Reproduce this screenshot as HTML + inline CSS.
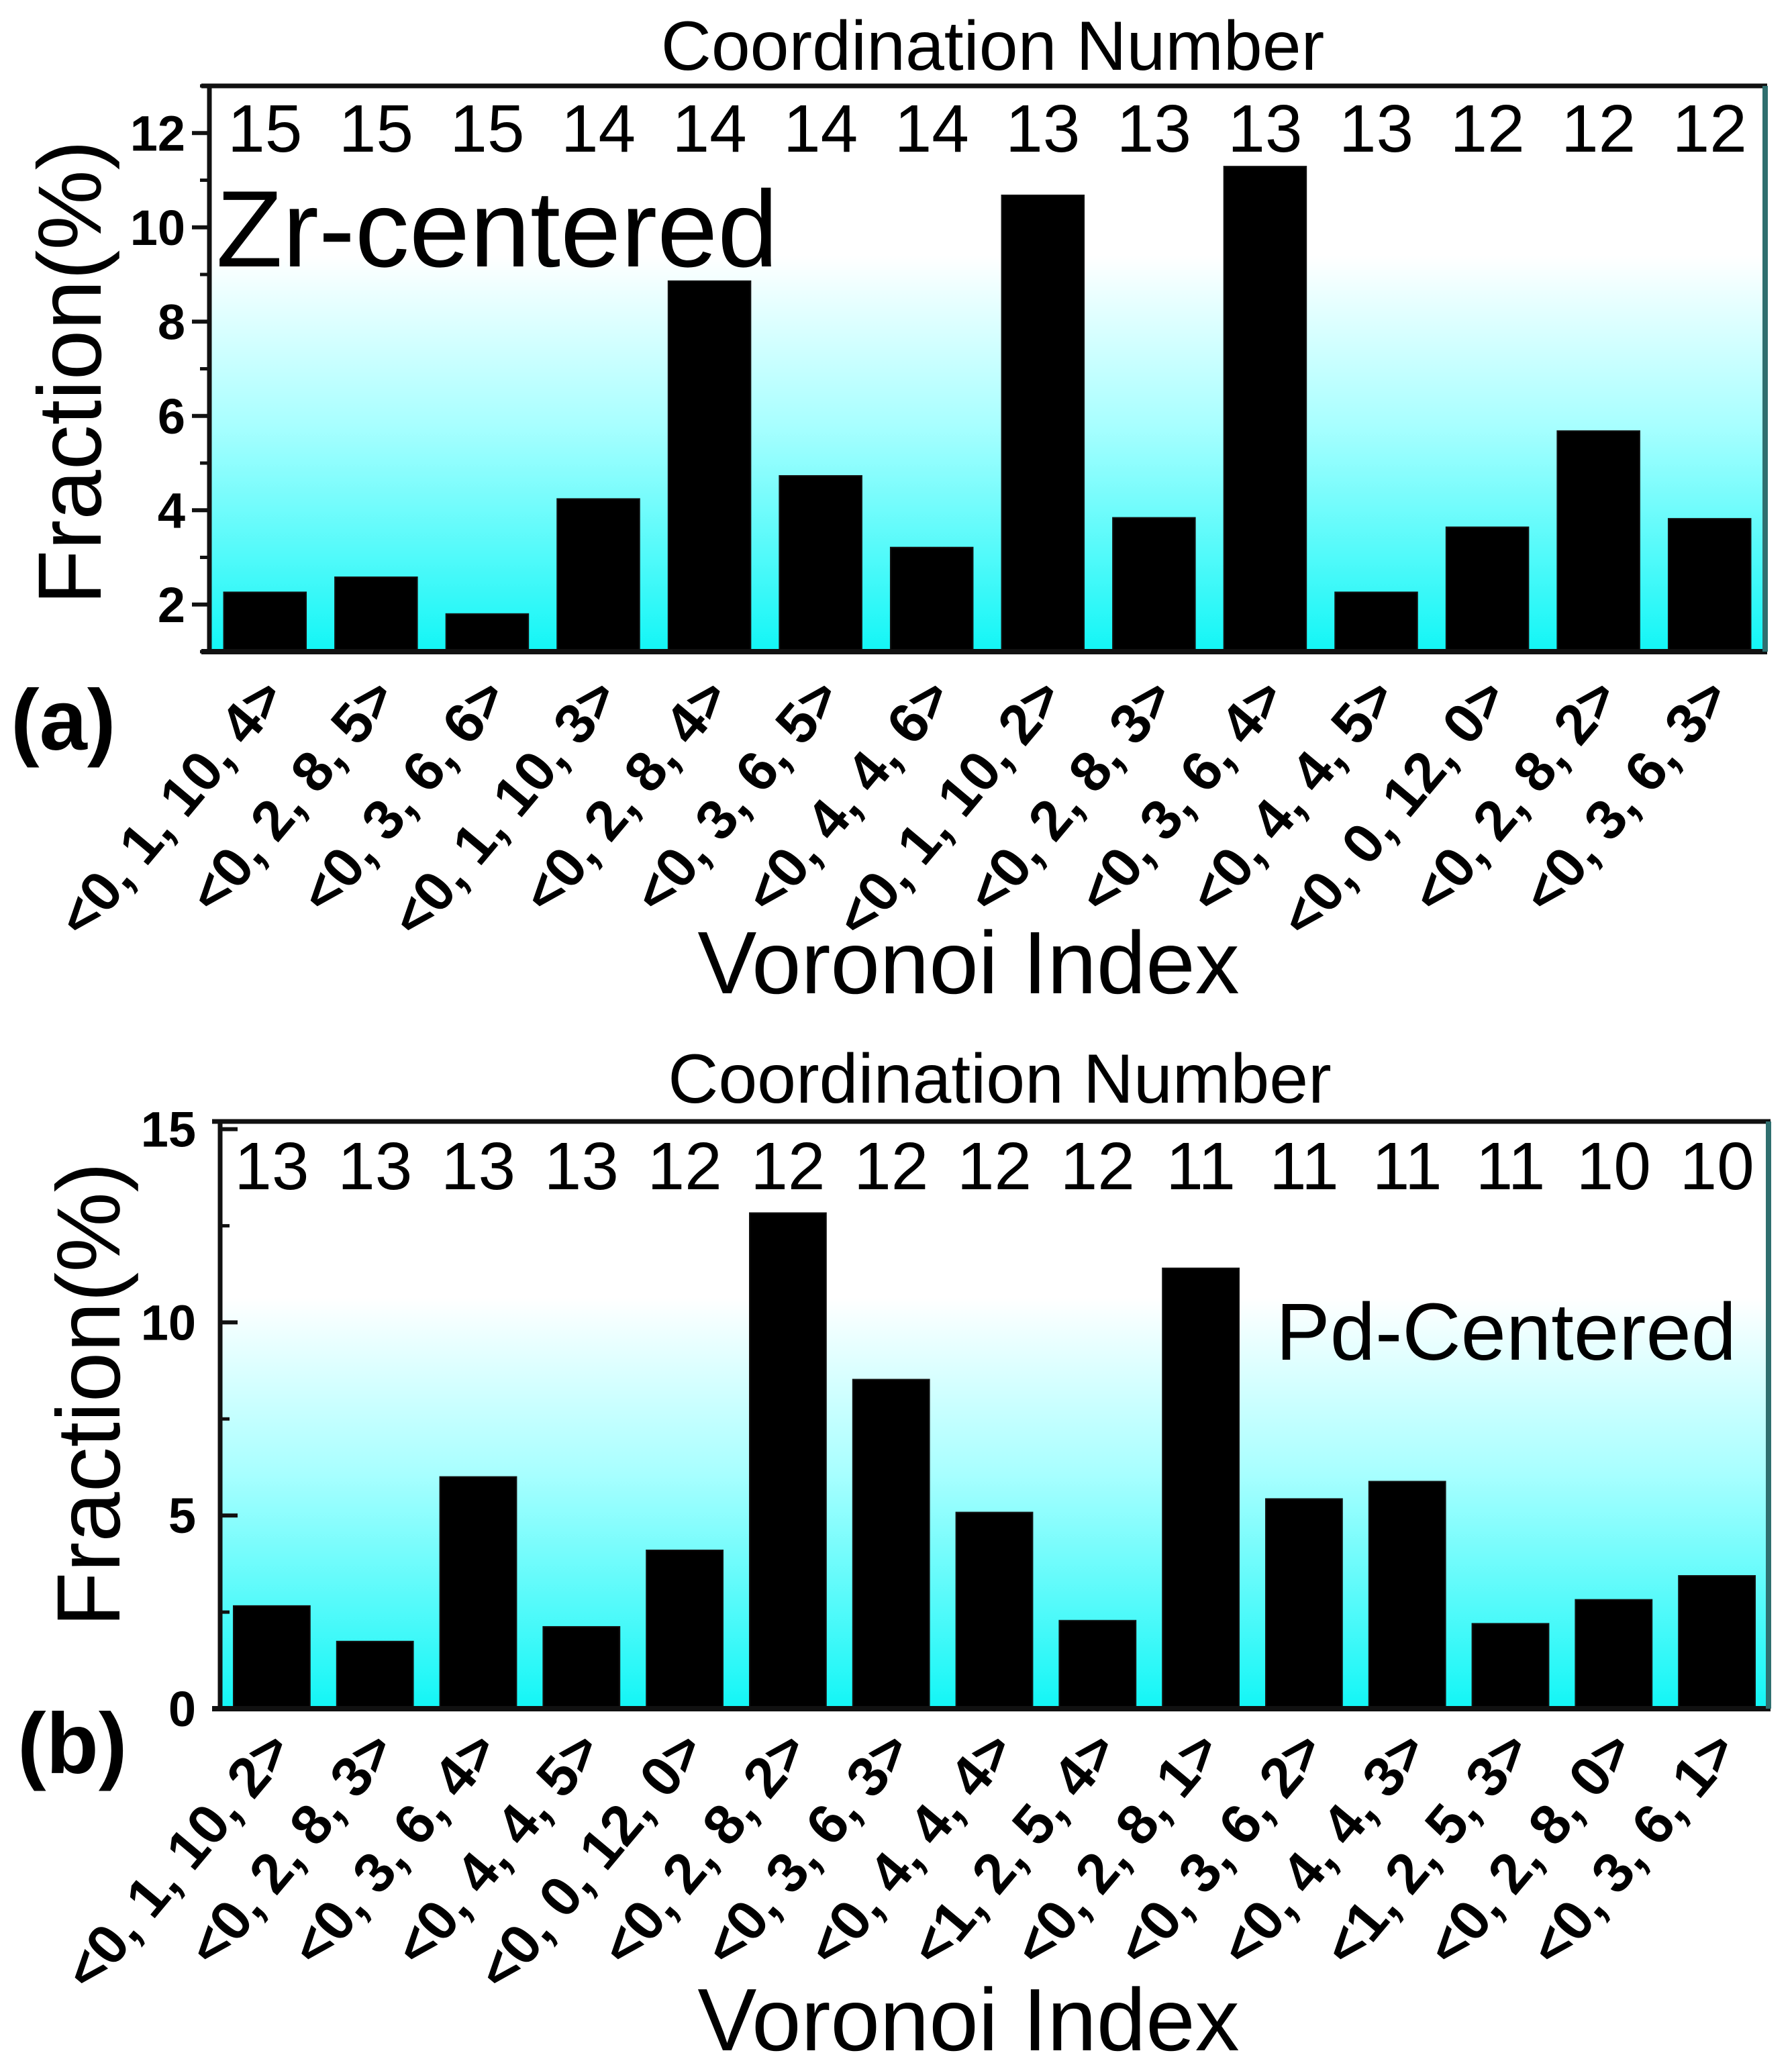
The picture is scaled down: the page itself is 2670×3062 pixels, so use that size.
<!DOCTYPE html>
<html><head><meta charset="utf-8"><style>
html,body{margin:0;padding:0;background:#fff}
svg{display:block}
text{font-family:"Liberation Sans",Arial,sans-serif;fill:#000}
</style></head><body>
<svg id="fig" width="2670" height="3062" viewBox="0 0 2670 3062" xmlns="http://www.w3.org/2000/svg">
<defs>
<linearGradient id="bgGrad" x1="0" y1="0" x2="0" y2="1">
<stop offset="0" stop-color="#ffffff"/>
<stop offset="0.3" stop-color="#ffffff"/>
<stop offset="0.6" stop-color="#a8ffff"/>
<stop offset="1" stop-color="#12f6f6"/>
</linearGradient>
</defs>
<g id="panelA"></g>
<g id="panelB"></g>
</svg>
<script>
const catsA = ["<0, 1, 10, 4>","<0, 2, 8, 5>","<0, 3, 6, 6>","<0, 1, 10, 3>","<0, 2, 8, 4>","<0, 3, 6, 5>","<0, 4, 4, 6>","<0, 1, 10, 2>","<0, 2, 8, 3>","<0, 3, 6, 4>","<0, 4, 4, 5>","<0, 0, 12, 0>","<0, 2, 8, 2>","<0, 3, 6, 3>"];
const valsA = [2.26, 2.58, 1.8, 4.24, 8.86, 4.73, 3.21, 10.68, 3.84, 11.29, 2.26, 3.64, 5.68, 3.82];
const cnA = ["15","15","15","14","14","14","14","13","13","13","13","12","12","12"];
const ticksA = [2,4,6,8,10,12];
const minorA = [1,3,5,7,9,11,13];

const catsB = ["<0, 1, 10, 2>","<0, 2, 8, 3>","<0, 3, 6, 4>","<0, 4, 4, 5>","<0, 0, 12, 0>","<0, 2, 8, 2>","<0, 3, 6, 3>","<0, 4, 4, 4>","<1, 2, 5, 4>","<0, 2, 8, 1>","<0, 3, 6, 2>","<0, 4, 4, 3>","<1, 2, 5, 3>","<0, 2, 8, 0>","<0, 3, 6, 1>"];
const valsB = [2.66, 1.74, 6.0, 2.12, 4.1, 12.83, 8.52, 5.08, 2.28, 11.4, 5.43, 5.88, 2.2, 2.82, 3.44];
const cnB = ["13","13","13","13","12","12","12","12","12","11","11","11","11","10","10"];
const ticksB = [0,5,10,15];
const minorB = [2.5,7.5,12.5];

const NS = "http://www.w3.org/2000/svg";
function mk(tag, attrs, parent, txt){
  const e = document.createElementNS(NS, tag);
  for (const k in attrs) e.setAttribute(k, attrs[k]);
  if (txt !== undefined) e.textContent = txt;
  parent.appendChild(e);
  return e;
}

function drawPanel(g, cfg){
  const {L,R,T,B,ymin,ymax,cats,vals,cns,ticks,minor,tickIn,barFrac,labelDy,cnBase,titleY,ylabX,ylabY,letter,letterX,letterY,xtitleY,tag} = cfg;
  const n = cats.length;
  const slot = (R-L)/n;
  const y = v => B - (v - ymin)/(ymax - ymin)*(B - T);
  const xc = i => L + slot*(i+0.5);

  const bg = mk('rect',{x:L,y:T,width:R-L,height:B-T,fill:'url(#bgGrad)'},g);
  
  

  vals.forEach((v,i)=>{
    const bw = slot*barFrac;
    const r = mk('rect',{x:xc(i)-bw/2,y:y(v),width:bw,height:B-y(v),fill:'#000',stroke:'#111','stroke-width':2},g);
    
    
  });

  cns.forEach((c,i)=>{
    const t = mk('text',{x:xc(i),y:cnBase,'text-anchor':'middle','font-size':100},g,c);
    
    
  });

  const fr = mk('g',{},g);
  
  
  mk('line',{x1:L-12,y1:T,x2:R+3,y2:T,stroke:'#111','stroke-width':7},fr);
  mk('line',{x1:L-12,y1:B,x2:R+3,y2:B,stroke:'#111','stroke-width':8},fr);
  mk('line',{x1:L,y1:T,x2:L,y2:B,stroke:'#111','stroke-width':7},fr);
  mk('line',{x1:R,y1:T,x2:R,y2:B,stroke:'#2f6f6f','stroke-width':8},fr);

  ticks.forEach(v=>{
    const yy = y(v);
    mk('line',{x1:tickIn?L:L-26,y1:yy,x2:tickIn?L+26:L,y2:yy,stroke:'#111','stroke-width':6},g);
    const t = mk('text',{x:L-36,y:yy+26,'text-anchor':'end','font-size':74,'font-weight':'bold'},g,String(v));
    
    
  });
  minor.forEach(v=>{
    const yy = y(v);
    if (yy < T-1 || yy > B+1) return;
    mk('line',{x1:tickIn?L:L-14,y1:yy,x2:tickIn?L+14:L,y2:yy,stroke:'#111','stroke-width':5},g);
  });

  cats.forEach((c,i)=>{
    const ex = xc(i)+34, ey = B+labelDy;
    const t = mk('text',{x:ex,y:ey,'text-anchor':'end','font-size':84,'font-weight':'bold',transform:`rotate(-50 ${ex} ${ey})`},g,c);
    
    
  });

  const tt = mk('text',{x:(L+R)/2+8,y:titleY,'text-anchor':'middle','font-size':104},g,'Coordination Number');
  
  

  const yl = mk('text',{x:ylabX,y:ylabY,'text-anchor':'middle','font-size':134,transform:`rotate(-90 ${ylabX} ${ylabY})`},g,'Fraction(%)');
  
  

  const xl = mk('text',{x:1443,y:xtitleY,'text-anchor':'middle','font-size':132},g,'Voronoi Index');
  
  

  const lt = mk('text',{x:letterX,y:letterY,'font-size':128,'font-weight':'bold'},g,letter);
  
  
}

const gA = document.getElementById('panelA');
drawPanel(gA,{L:312,R:2630,T:128,B:971,ymin:1,ymax:13,cats:catsA,vals:valsA,cns:cnA,ticks:ticksA,minor:minorA,tickIn:false,barFrac:0.74,labelDy:70,cnBase:226,titleY:104,ylabX:150,ylabY:555,letter:'(a)',letterX:16,letterY:1117,xtitleY:1480,tag:'a'});
const zr = mk('text',{x:322,y:397,'font-size':162},gA,'Zr-centered');



const gB = document.getElementById('panelB');
drawPanel(gB,{L:328,R:2635,T:1671,B:2546,ymin:0,ymax:15.2,cats:catsB,vals:valsB,cns:cnB,ticks:ticksB,minor:minorB,tickIn:true,barFrac:0.74,labelDy:64,cnBase:1772,titleY:1643,ylabX:178,ylabY:2078,letter:'(b)',letterX:26,letterY:2642,xtitleY:3055,tag:'b'});
const pd = mk('text',{x:1901,y:2026,'font-size':121},gB,'Pd-Centered');


</script>
</body></html>
